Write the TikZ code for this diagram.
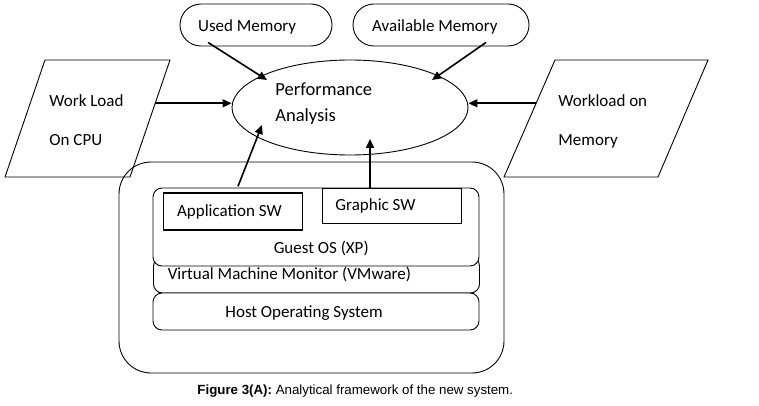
\documentclass[tikz,border=0pt]{standalone}
\usepackage{fontspec}
\setmainfont{Carlito}
\newfontfamily\capfont{Liberation Sans}
\usetikzlibrary{arrows.meta,calc,shapes.geometric}
\tikzset{
  txt/.style={inner sep=0pt,anchor=base west,font=\fontsize{17}{20}\selectfont},
  memnode/.style={draw,rounded corners=21pt,minimum height=42pt},
  layer/.style={draw,fill=white,rounded corners=9pt,minimum width=326pt},
  swbox/.style={draw,minimum width=139pt},
  arr/.style={line width=1.6pt,-{Triangle[length=9pt,width=8pt]}}
}
\begin{document}
\begin{tikzpicture}[x=1pt,y=-1pt,line width=0.9pt]
\useasboundingbox(0,0)rectangle(759,406);
% memory and analysis
\node[memnode,minimum width=152pt](usedmem)at(256,25){};
\node[memnode,minimum width=176pt](availmem)at(441,25){};
\node[txt](usedtxt)at(197.7,31.7){Used Memory};
\node[txt](availtxt)at(371.7,31.7){Available Memory};
\node[draw,ellipse,minimum width=236pt,minimum height=95pt](perf)at(350,107.5){};
\node[txt,align=left,font=\fontsize{18.5}{26}\selectfont](perftxt)at(275,122){Performance\\Analysis};
% workloads
\foreach \n/\xa/\xb/\xc/\xd in {cpu/45/170/130/5,mem/555/708/658/504}{
  \draw(\xa,60)coordinate(\n TL)--(\xb,60)coordinate(\n TR)--(\xc,177)coordinate(\n BR)--(\xd,177)coordinate(\n BL)--cycle;}
\node[txt,align=left,font=\fontsize{17}{39}\selectfont](cputxt)at(49,146){Work Load\\On CPU};
\node[txt,align=left,font=\fontsize{17}{39}\selectfont](memtxt)at(558,145.7){Workload on\\Memory};
% system
\node[draw,rounded corners=32pt,minimum width=385pt,minimum height=211pt](sys)at(311.5,267.5){};
\node[layer,minimum height=36pt](vmm)at(316.5,275){};
\node[layer,minimum height=37pt](host)at(316,311.5){};
\node[layer,minimum height=78pt](guest)at(316,227){};
\node[swbox,minimum height=37pt,line width=1.3pt](appsw)at(233,211.5){};
\node[swbox,minimum height=35pt](graphsw)at(391.5,205.5){};
\node[txt](apptxt)at(176.7,216.7){Application SW};
\node[txt](graphtxt)at(335,210){Graphic SW};
\node[txt](guesttxt)at(273.3,253.3){Guest OS (XP)};
\node[txt](vmmtxt)at(167.3,279.3){Virtual Machine Monitor (VMware)};
\node[txt](hosttxt)at(225,317.3){Host Operating System};
% arrows
\coordinate(cpuout)at($(cpuBR)!0.63!(cpuTR)$);
\coordinate(memout)at($(memBL)!0.63!(memTL)$);
\draw[arr](cpuout)--(cpuout-|perf.west);
\draw[arr](memout)--(memout-|perf.east);
\draw[arr]($(usedmem.south)+(-48,-4)$)--($(perf.center)+(-83,-27.5)$);
\draw[arr]($(availmem.south)+(45,-4)$)--($(perf.center)+(82,-27.5)$);
\draw[arr]($(appsw.north)+(5,-6)$)--($(perf.center)+(-88,17.5)$);
\draw[arr]($(graphsw.north)+(-21.5,0)$)--($(perf.center)+(20,31.5)$);
% caption
\node[inner sep=0pt,anchor=base west,font=\capfont\fontsize{13.3}{16}\selectfont](caption)at(197,394){\textbf{Figure 3(A):} Analytical framework of the new system.};
\end{tikzpicture}
\end{document}
